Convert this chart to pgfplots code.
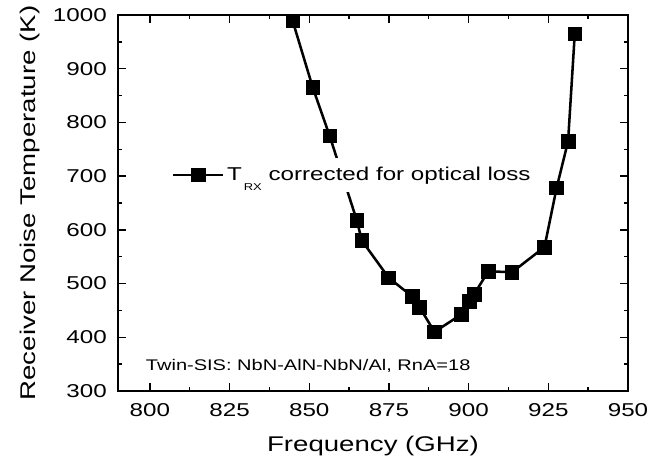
\documentclass[border=0pt]{standalone}
\usepackage{fontspec}
\setmainfont{Liberation Sans}[FakeStretch=1.3]
\usepackage{pgfplots}
\pgfplotsset{compat=1.18}
\begin{document}
\begin{tikzpicture}
\useasboundingbox (-88.5bp,-54.75bp) rectangle (408bp,293.25bp);
\begin{axis}[
  at={(0,0)}, anchor=south west,
  scale only axis, width=382.5bp, height=282bp,
  xmin=790, xmax=950, ymin=300, ymax=1000,
  xtick={800,825,...,950}, ytick={300,400,...,1000},
  minor x tick num=1, minor y tick num=1,
  tick align=inside,
  major tick length=6.2bp, minor tick length=3.3bp,
  every tick/.style={black, line width=1bp},
  axis line style={line width=1.25bp},
  clip=false,
  /pgf/number format/assume math mode=true,
  /pgf/number format/1000 sep={},
  tick label style={font=\fontsize{14}{16}\selectfont},
  xticklabel style={inner sep=0pt, anchor=north, yshift=-9.5bp},
  yticklabel style={inner sep=0pt, anchor=east, xshift=-8.25bp},
  xlabel={Frequency (GHz)},
  ylabel={Receiver Noise Temperature (K)},
  xlabel style={at={(axis description cs:0.5,-0.1614)}, anchor=base, font=\fontsize{16}{18}\selectfont},
  ylabel style={at={(axis description cs:-0.1618,0.5)}, anchor=base, font=\fontsize{16}{18}\selectfont},
  legend style={at={(axis description cs:0.100,0.575)}, anchor=west, draw=none, fill=white,
    font=\fontsize{14}{16}\selectfont, inner xsep=2bp, inner ysep=5bp},
  legend cell align=left,
  legend image code/.code={\draw[mark repeat=2,mark phase=2,#1] plot coordinates {(0bp,0bp) (18.75bp,0bp) (37.5bp,0bp)};},
]
\addplot[black, line width=1.9bp, mark=square*, mark size=5.1bp, mark options={line width=0.5bp, fill=black}]
coordinates {
(844.8,989) (851.1,865) (856.4,775) (864.9,618) (866.5,580) (874.9,511)
(882.3,476) (884.6,456) (889.3,410) (897.8,443) (900.2,467) (901.7,480)
(906.2,523) (913.6,521) (923.8,568) (927.6,678) (931.2,765) (933.3,965)
};
\addlegendentry{T\hspace{1.5bp}\raisebox{-7.5bp}{\fontsize{7.5}{8}\selectfont RX} corrected for optical loss}
\node[anchor=base west, font=\fontsize{11.6}{13}\selectfont, inner sep=0pt] at (axis description cs:0.0543,0.054) {Twin-SIS: NbN-AlN-NbN/Al, RnA=18};
\end{axis}
\end{tikzpicture}
\end{document}
